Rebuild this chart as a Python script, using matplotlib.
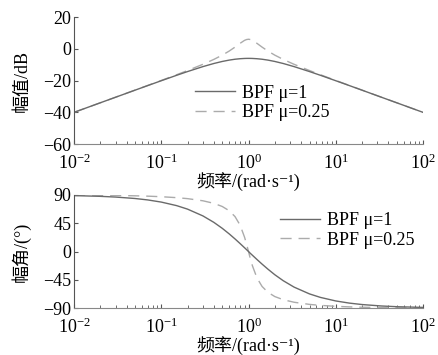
import matplotlib
matplotlib.use('Agg')
import matplotlib.pyplot as plt

plt.rcParams['font.family'] = ['Liberation Serif', 'Noto Sans CJK SC', 'DejaVu Serif']
plt.rcParams['mathtext.fontset'] = 'stix'
plt.rcParams['font.size'] = 13

# frequency in rad/s
w = [0.01, 0.02, 0.03, 0.05, 0.07, 0.1, 0.15, 0.2, 0.3, 0.4, 0.5, 0.6, 0.7, 0.8, 0.9, 0.95, 1,
     1.05, 1.11, 1.25, 1.43, 1.67, 2, 2.5, 3.33, 5, 6.67, 10, 14.3, 20, 33.3, 50, 100]

# magnitude in dB
mag_mu1 = [-40.0, -33.98, -30.47, -26.04, -23.14, -20.09, -16.67, -14.32, -11.21, -9.25, -7.96,
           -7.11, -6.56, -6.24, -6.07, -6.03, -6.02, -6.03, -6.07, -6.24, -6.56, -7.11, -7.96,
           -9.25, -11.21, -14.32, -16.67, -20.09, -23.14, -26.04, -30.47, -33.98, -40.0]
mag_mu025 = [-40.0, -33.98, -30.45, -26.00, -23.06, -19.92, -16.31, -13.67, -9.76, -6.68, -3.98,
             -1.43, 1.07, 3.44, 5.31, 5.84, 6.02, 5.84, 5.31, 3.44, 1.07, -1.43, -3.98,
             -6.68, -9.76, -13.67, -16.31, -19.92, -23.06, -26.00, -30.45, -33.98, -40.0]

# phase in degrees
ph_mu1 = [88.85, 87.71, 86.56, 84.28, 81.99, 78.58, 72.94, 67.38, 56.60, 46.40, 36.87, 28.07,
          20.02, 12.68, 6.03, 2.95, 0, -2.95, -6.03, -12.68, -20.02, -28.07, -36.87, -46.40,
          -56.60, -67.38, -72.94, -78.58, -81.99, -84.28, -86.56, -87.71, -88.85]
ph_mu025 = [89.71, 89.43, 89.14, 88.56, 87.99, 87.11, 85.61, 84.05, 80.64, 76.61, 71.57, 64.89,
            55.54, 41.99, 22.89, 11.60, 0, -11.60, -22.89, -41.99, -55.54, -64.89, -71.57,
            -76.61, -80.64, -84.05, -85.61, -87.11, -87.99, -88.56, -89.14, -89.43, -89.71]

labels = ['BPF μ=1', 'BPF μ=0.25']
xlab = '频率/(rad·s⁻¹)'
c_solid = '#6a6a6a'
c_dash = '#ababab'

fig = plt.figure(figsize=(4.39, 3.55), dpi=100)
ax1 = fig.add_axes([0.1686, 0.594, 0.795, 0.358])
ax2 = fig.add_axes([0.1686, 0.132, 0.795, 0.319])

l2, = ax1.semilogx(w, mag_mu025, color=c_dash, lw=1.0, dashes=(8, 5), label=labels[1])
l1, = ax1.semilogx(w, mag_mu1, color=c_solid, lw=1.0, label=labels[0])
ax1.set_ylim(-60, 20)
ax1.set_yticks([-60, -40, -20, 0, 20])
ax1.set_ylabel('幅值/dB')
ax1.set_xlabel(xlab, labelpad=-1)
ax1.legend([l1, l2], labels, loc='center left', bbox_to_anchor=(0.347, 0.323), frameon=False,
           handlelength=2.2, handletextpad=0.4, borderpad=0, borderaxespad=0,
           labelspacing=0.15)

p2, = ax2.semilogx(w, ph_mu025, color=c_dash, lw=1.0, dashes=(8, 5), label=labels[1])
p1, = ax2.semilogx(w, ph_mu1, color=c_solid, lw=1.0, label=labels[0])
ax2.set_ylim(-90, 90)
ax2.set_yticks([-90, -45, 0, 45, 90])
ax2.set_ylabel('幅角/(°)')
ax2.set_xlabel(xlab, labelpad=-1)
ax2.legend([p1, p2], labels, loc='center left', bbox_to_anchor=(0.59, 0.686), frameon=False,
           handlelength=2.2, handletextpad=0.4, borderpad=0, borderaxespad=0,
           labelspacing=0.15)

for ax in (ax1, ax2):
    ax.set_xlim(0.01, 100)
    ax.spines['top'].set_visible(False)
    ax.spines['right'].set_visible(False)
    ax.spines['left'].set_color('#555555')
    ax.spines['bottom'].set_color('#888888')
    ax.tick_params(which='both', direction='in', colors='#555555', labelcolor='black')
    ax.tick_params(which='major', length=3, pad=2)
    ax.tick_params(axis='x', which='major', pad=7)
    ax.tick_params(which='minor', length=2)
    ax.yaxis.set_label_coords(-0.125, 0.5)

fig.savefig('out.png', dpi=100)
